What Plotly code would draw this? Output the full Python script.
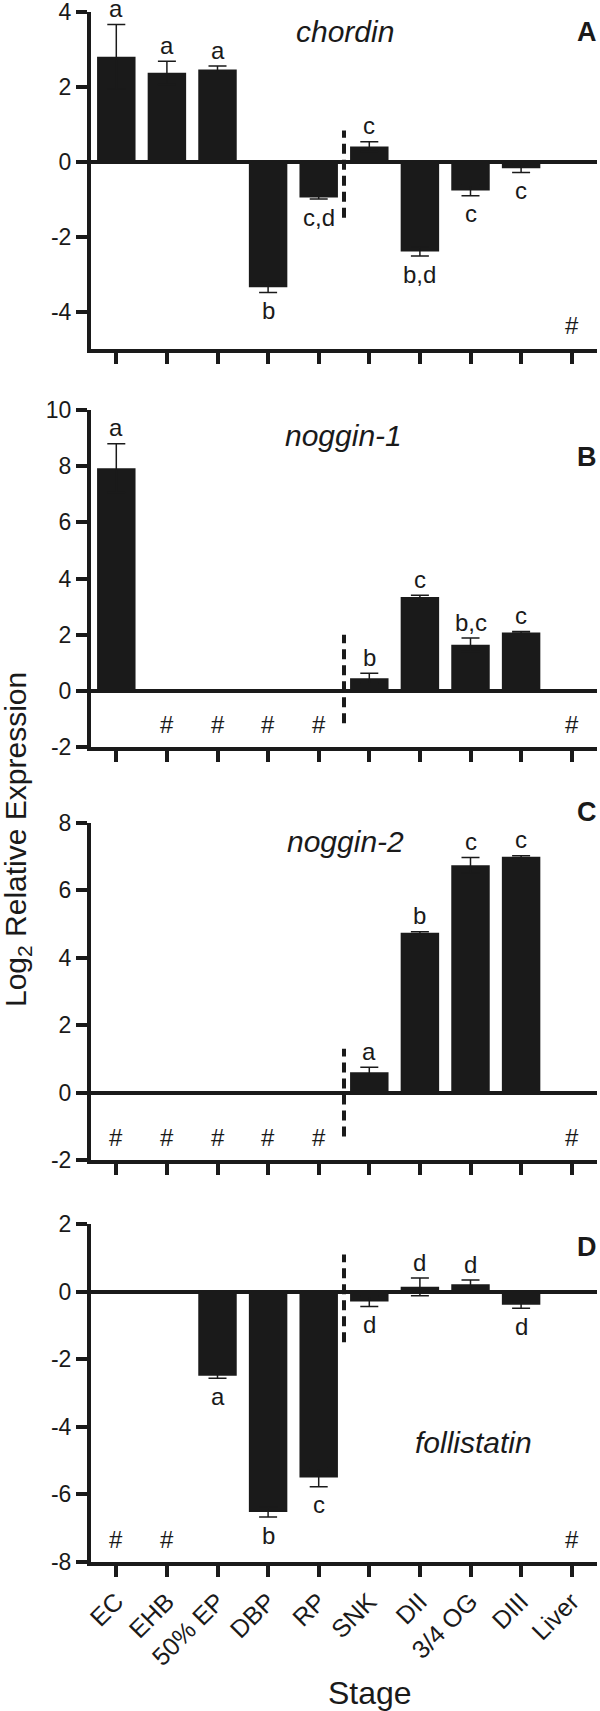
import plotly.graph_objects as go

# ---------------- data ----------------
stages = ["EC", "EHB", "50% EP", "DBP", "RP", "SNK", "DII", "3/4 OG", "DIII", "Liver"]

chordin = [2.80, 2.37, 2.46, -3.35, -0.96, 0.40, -2.40, -0.77, -0.18, None]
chordin_err = [0.86, 0.31, 0.09, 0.14, 0.04, 0.13, 0.12, 0.14, 0.11, None]
chordin_letters = ["a", "a", "a", "b", "c,d", "c", "b,d", "c", "c", ""]

noggin1 = [7.93, None, None, None, None, 0.45, 3.34, 1.64, 2.08, None]
noggin1_err = [0.87, None, None, None, None, 0.18, 0.06, 0.24, 0.03, None]
noggin1_letters = ["a", "", "", "", "", "b", "c", "b,c", "c", ""]

noggin2 = [None, None, None, None, None, 0.60, 4.74, 6.74, 6.99, None]
noggin2_err = [None, None, None, None, None, 0.15, 0.03, 0.23, 0.03, None]
noggin2_letters = ["", "", "", "", "", "a", "b", "c", "c", ""]

follistatin = [None, None, -2.49, -6.52, -5.50, -0.29, 0.14, 0.22, -0.39, None]
follistatin_err = [None, None, 0.07, 0.15, 0.27, 0.15, 0.26, 0.12, 0.10, None]
follistatin_letters = ["", "", "a", "b", "c", "d", "d", "d", "d", ""]

genes = ["chordin", "noggin-1", "noggin-2", "follistatin"]
panel_labels = ["A", "B", "C", "D"]
values = [chordin, noggin1, noggin2, follistatin]
errors = [chordin_err, noggin1_err, noggin2_err, follistatin_err]
letters = [chordin_letters, noggin1_letters, noggin2_letters, follistatin_letters]

y_ranges = [[-5, 4], [-2, 10], [-2, 8], [-8, 2]]
y_ticks = [[-4, -2, 0, 2, 4], [-2, 0, 2, 4, 6, 8, 10], [-2, 0, 2, 4, 6, 8], [-8, -6, -4, -2, 0, 2]]
divider_spans = [[-1.5, 0.83], [-1.15, 2.0], [-1.3, 1.3], [-1.5, 1.1]]

# ---------------- layout constants (pixels) ----------------
W, H = 600, 1711
L, R = 91, 3
panel_px = [(11.7, 349), (410, 747), (822.7, 1160), (1224, 1562)]   # (top, bottom)
gene_px = [(345, 32), (343, 436), (345, 842), (473, 1442)]
letter_px = [(587, 32), (587, 457), (587, 812), (587, 1247)]

INK = "#1a1a1a"
FONT = "Liberation Sans, Arial, sans-serif"
PW = W - L - R


def px2paper(x, y):
    return (x - L) / PW, 1 - y / H


fig = go.Figure()
annotations = []
shapes = []

for i in range(4):
    ya = "y" if i == 0 else f"y{i + 1}"
    xa = "x" if i == 0 else f"x{i + 1}"
    vals, errs, lets = values[i], errors[i], letters[i]
    fig.add_trace(go.Bar(
        x=stages, y=vals, xaxis=xa, yaxis=ya,
        width=0.76,
        marker=dict(color=INK, line=dict(width=0)),
        error_y=dict(type="data", array=[e if e is not None else 0 for e in errs],
                     symmetric=True, color=INK, thickness=1.5, width=9),
        showlegend=False, hoverinfo="x+y",
    ))
    top, bot = panel_px[i]
    dom = [1 - bot / H, 1 - top / H]
    axis_common = dict(showline=True, linewidth=4, linecolor=INK, ticks="outside",
                       ticklen=11, tickwidth=4, tickcolor=INK, showgrid=False,
                       automargin=False, ticklabeloverflow="allow")
    fig.layout[f"yaxis{'' if i == 0 else i + 1}"] = dict(
        domain=dom, range=y_ranges[i], tickvals=y_ticks[i],
        ticktext=[str(t) for t in y_ticks[i]], anchor=xa,
        tickfont=dict(family=FONT, size=23, color=INK),
        zeroline=True, zerolinewidth=4, zerolinecolor=INK, **axis_common)
    fig.layout[f"xaxis{'' if i == 0 else i + 1}"] = dict(
        domain=[0, 1], range=[-0.5, 9.5], type="category", anchor=ya,
        categoryorder="array", categoryarray=stages,
        tickfont=dict(family=FONT, size=25, color=INK),
        showticklabels=(i == 3), tickangle=-45, zeroline=False, **axis_common)

    # significance letters
    for j, (v, e, t) in enumerate(zip(vals, errs, lets)):
        if v is None:
            annotations.append(dict(x=stages[j], y=y_ranges[i][0], xref=xa, yref=ya,
                                    text="#", showarrow=False, yshift=23, yanchor="middle",
                                    font=dict(family=FONT, size=24, color=INK)))
            continue
        if not t:
            continue
        if v >= 0:
            annotations.append(dict(x=stages[j], y=v + e, xref=xa, yref=ya, text=t,
                                    showarrow=False, yanchor="middle", yshift=16,
                                    font=dict(family=FONT, size=24, color=INK)))
        else:
            annotations.append(dict(x=stages[j], y=v - e, xref=xa, yref=ya, text=t,
                                    showarrow=False, yanchor="middle", yshift=-18,
                                    font=dict(family=FONT, size=24, color=INK)))

    # gene name
    gx, gy = px2paper(*gene_px[i])
    annotations.append(dict(x=gx, y=gy, xref="paper", yref="paper", text=f"<i>{genes[i]}</i>",
                            showarrow=False, xanchor="center", yanchor="middle",
                            font=dict(family=FONT, size=30, color=INK)))
    lx, ly = px2paper(*letter_px[i])
    annotations.append(dict(x=lx, y=ly, xref="paper", yref="paper", text=f"<b>{panel_labels[i]}</b>",
                            showarrow=False, xanchor="center", yanchor="middle",
                            font=dict(family=FONT, size=27, color=INK)))

    # dashed divider between RP and SNK
    shapes.append(dict(type="line", xref=xa, yref=ya, x0=4.5, x1=4.5,
                       y0=divider_spans[i][0], y1=divider_spans[i][1],
                       line=dict(color=INK, width=4, dash="10px,6px")))

# axis titles
tx, ty = px2paper(17, 840)
annotations.append(dict(x=tx, y=ty, xref="paper", yref="paper",
                        text="Log<sub>2</sub> Relative Expression", textangle=-90,
                        showarrow=False, xanchor="center", yanchor="middle",
                        font=dict(family=FONT, size=30, color=INK)))
sx, sy = px2paper(370, 1693)
annotations.append(dict(x=sx, y=sy, xref="paper", yref="paper", text="Stage",
                        showarrow=False, xanchor="center", yanchor="middle",
                        font=dict(family=FONT, size=32, color=INK)))

fig.update_layout(
    width=W, height=H,
    margin=dict(l=L, r=R, t=0, b=0, autoexpand=False),
    paper_bgcolor="white", plot_bgcolor="white",
    bargap=0.24,
    annotations=annotations, shapes=shapes,
    font=dict(family=FONT, color=INK),
)

fig.write_html("out.html", config={"displayModeBar": False},
               post_script="document.body.style.margin='0';document.body.style.overflow='hidden';")
